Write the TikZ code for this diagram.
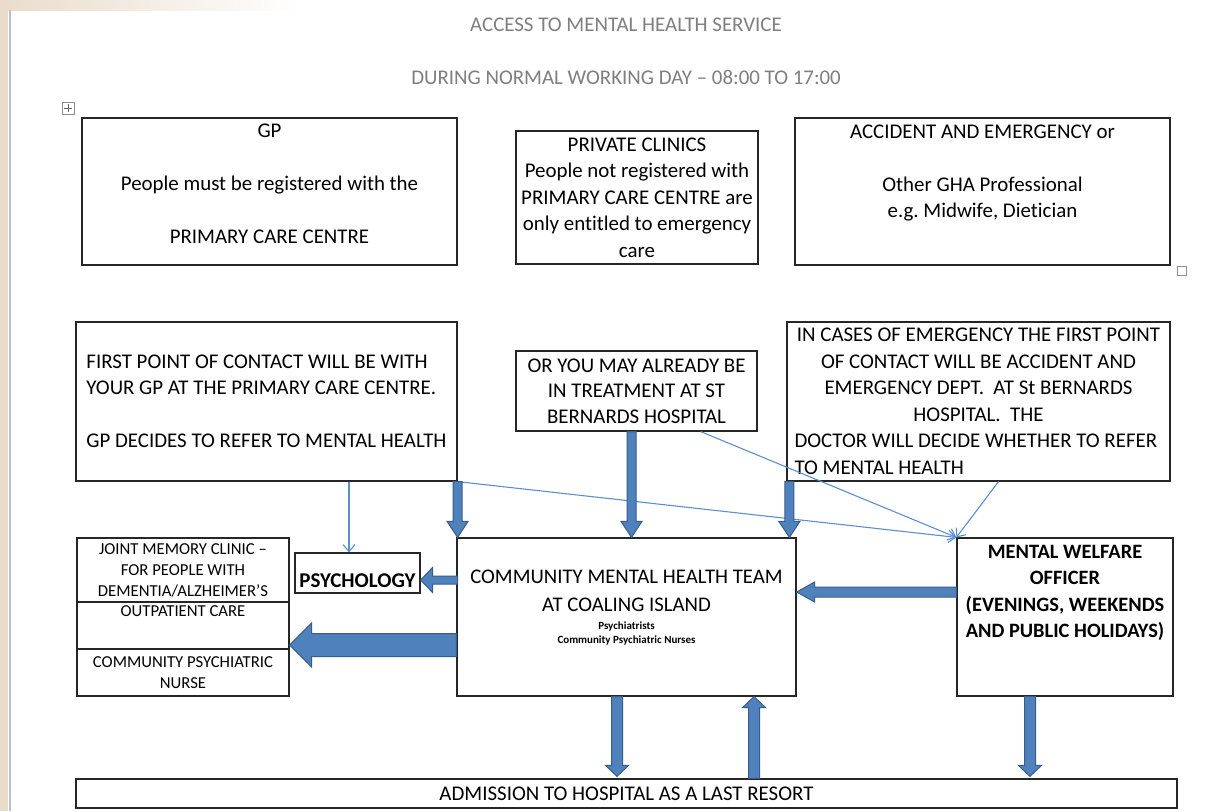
\documentclass[tikz,border=0pt]{standalone}
\usepackage{fontspec}
\setmainfont{Carlito}[Ligatures=NoCommon]
\usetikzlibrary{positioning,arrows.meta,calc}

\definecolor{arrowfill}{HTML}{4F81BD}
\definecolor{arrowedge}{HTML}{385D8A}
\definecolor{linkblue}{HTML}{5B8FD0}
\definecolor{titlegray}{HTML}{7F7F7F}
\definecolor{pagebeige}{HTML}{E9DCCB}

% block arrow: [style]{from}{to}{shaft half}{head half}{head length}
\newcommand{\fatarrow}[6][]{%
  \path ($(#3)!#6!(#2)$) coordinate (fa-base);
  \filldraw[fat,#1] ($(#2)!#4!90:(#3)$) -- ($(fa-base)!#4!-90:(#2)$)
    -- ($(fa-base)!#5!-90:(#2)$) -- (#3) -- ($(fa-base)!#5!90:(#2)$)
    -- ($(fa-base)!#4!90:(#2)$) -- ($(#2)!#4!-90:(#3)$) -- cycle;}

\begin{document}
\begin{tikzpicture}[
    x=0.5pt, y=-0.5pt,
    font=\fontsize{10.45}{13.25}\selectfont,
    box/.style={draw=black!85, line width=0.6pt, inner sep=2pt, align=center},
    txt/.style={align=center, inner sep=0pt},
    small/.style={font=\fontsize{8.35}{10.5}\selectfont, inner ysep=1pt},
    fat/.style={fill=arrowfill, draw=arrowedge, line width=0.5pt, line join=miter},
    link/.style={draw=linkblue, line width=0.55pt, -{Straight Barb[length=3.5pt,width=6pt]}}
]
\useasboundingbox (0,0) rectangle (1228,811);

% page
\fill[white] (0,0) rectangle (1228,811);
\shade[left color=pagebeige, right color=white] (0,0) rectangle (300,10);
\fill[pagebeige] (0,0) rectangle (8,811);
\draw[black!25, line width=1pt] (10,10) -- (10,811);
\node[draw=black!45, line width=0.4pt, minimum size=6pt, inner sep=0pt] (mover) at (68,108) {};
\draw[black!60, line width=0.3pt] ($(mover.center)+(-4,0)$) -- ($(mover.center)+(4,0)$)
    ($(mover.center)+(0,-4)$) -- ($(mover.center)+(0,4)$);
\node[draw=black!45, line width=0.4pt, minimum size=4.5pt, inner sep=0pt] (handle) at (1182,271) {};

% titles
\node[txt, text=titlegray] (title) at (626,25) {ACCESS TO MENTAL HEALTH SERVICE};
\node[txt, text=titlegray] (subtitle) at (626,77) {DURING NORMAL WORKING DAY – 08:00 TO 17:00};

% Row 1: who you see first
\node[box, minimum width=187.5pt, minimum height=73.5pt] (gp) at (269.5,191.5) {};
\node[txt] (gp-t) at (269.5,184) {GP\\[13.25pt]People must be registered with the\\[13.25pt]PRIMARY CARE CENTRE};
\node[box, minimum width=121pt, minimum height=66.5pt] (private) at (637,197.5) {PRIVATE CLINICS\\People not registered with\\PRIMARY CARE CENTRE are\\only entitled to emergency\\care};
\node[box, minimum width=187.5pt, minimum height=73.5pt] (ae) at (982.5,191.5) {};
\node[txt] (ae-t) at (982.5,173) {ACCIDENT AND EMERGENCY or\\[13.25pt]Other GHA Professional\\e.g.\ Midwife, Dietician};

% Row 2: routes into mental health
\node[box, align=left, minimum width=190.5pt, minimum height=79.5pt] (first) at (266.5,401.5) {FIRST POINT OF CONTACT WILL BE WITH\\YOUR GP AT THE PRIMARY CARE CENTRE.\\[13.25pt]GP DECIDES TO REFER TO MENTAL HEALTH};
\node[box, minimum width=120.5pt, minimum height=40pt] (stb) at (636.5,391) {OR YOU MAY ALREADY BE\\[-0.5pt]IN TREATMENT AT ST\\[-0.5pt]BERNARDS HOSPITAL};
\node[box, align=flush center, text width=184pt, minimum width=191.5pt, minimum height=79.5pt] (emerg) at (978.5,401.5) {\mbox{IN CASES OF EMERGENCY THE FIRST POINT}\\\mbox{OF CONTACT WILL BE ACCIDENT AND}\\\mbox{EMERGENCY DEPT.\ \ AT St BERNARDS}\\\mbox{HOSPITAL.\ \ THE}\\\makebox[184pt][l]{DOCTOR WILL DECIDE WHETHER TO REFER}\\\makebox[184pt][l]{TO MENTAL HEALTH}};

% Row 3: services
\node[box, small, minimum width=106pt, minimum height=32pt] (memory) at (183,570) {JOINT MEMORY CLINIC –\\FOR PEOPLE WITH\\DEMENTIA/ALZHEIMER’S};
\node[box, minimum width=106pt, minimum height=23.5pt] (outpat) at (183,625.5) {};
\node[txt, small] (outpat-t) at (183,611) {OUTPATIENT CARE};
\node[box, small, minimum width=106pt, minimum height=23.5pt] (cpn) at (183,672.5) {COMMUNITY PSYCHIATRIC\\NURSE};
\node[box, font=\bfseries\fontsize{10.5}{13.25}\selectfont, minimum width=62.5pt, minimum height=20pt, text height=14pt, text depth=0pt] (psych) at (357.5,573) {PSYCHOLOGY};
\node[box, minimum width=169.5pt, minimum height=79pt] (cmht) at (626.5,617) {};
\node[txt, font=\fontsize{10.4}{14}\selectfont] (cmht-t) at (626.5,591) {COMMUNITY MENTAL HEALTH TEAM\\AT COALING ISLAND};
\node[txt, font=\bfseries\fontsize{5.5}{7}\selectfont] (cmht-s) at (626.5,633) {Psychiatrists\\Community Psychiatric Nurses};
\node[box, minimum width=108pt, minimum height=79pt] (mwo) at (1065,617) {};
\node[txt, font=\bfseries\fontsize{10.2}{13.25}\selectfont] (mwo-t) at (1065,593) {MENTAL WELFARE\\OFFICER\\(EVENINGS, WEEKENDS\\AND PUBLIC HOLIDAYS)};

% Row 4
\node[box, minimum width=550.5pt, minimum height=14.5pt, inner sep=0pt] (adm) at (626.5,793.5) {ADMISSION TO HOSPITAL AS A LAST RESORT};

% thin links
\coordinate (psy-in) at ($(first.south)+(82.5,0)$);
\draw[link] (psy-in) -- (psy-in |- psych.north);
\draw[link] (first.south east) -- (mwo.north west);
\coordinate (stb-out) at ($(stb.south)!0.53!(stb.south east)$);
\draw[link] (stb-out) -- (mwo.north west);
\coordinate (em-out) at ($(emerg.south)+(20,0)$);
\draw[link] (em-out) -- (mwo.north west);

% block arrows into the team
\coordinate (a1s) at (first.south east);
\coordinate (a1e) at (first.south east |- cmht.north);
\fatarrow{a1s}{a1e}{2.25pt}{5.25pt}{8pt}
\coordinate (a2s) at ($(stb.south)+(-5,0)$);
\coordinate (a2e) at (a2s |- cmht.north);
\fatarrow{a2s}{a2e}{2.25pt}{5.25pt}{8pt}
\coordinate (a3s) at ($(emerg.south west)+(3,0)$);
\coordinate (a3e) at (a3s |- cmht.north);
\fatarrow{a3s}{a3e}{2.25pt}{5.25pt}{8pt}

% block arrows out of the team
\coordinate (psy-s) at ($(psych.east)+(37,7)$);
\coordinate (psy-e) at ($(psych.east)+(0,7)$);
\fatarrow{psy-s}{psy-e}{2pt}{6.25pt}{6pt}
\coordinate (out-s) at ($(cmht.west)+(0,28)$);
\coordinate (out-e) at (outpat.east |- out-s);
\fatarrow{out-s}{out-e}{5.75pt}{11pt}{11pt}
\coordinate (mwo-s) at ($(mwo.west)+(0,-25)$);
\coordinate (mwo-e) at (cmht.east |- mwo-s);
\fatarrow{mwo-s}{mwo-e}{2.5pt}{5pt}{9pt}

% admission
\coordinate (down1s) at ($(cmht.south)+(-9.5,0)$);
\coordinate (down1e) at ($(down1s |- adm.north)+(0,-2)$);
\fatarrow{down1s}{down1e}{2.75pt}{5.75pt}{5.5pt}
\coordinate (up1s) at ($(adm.north)+(127.5,0)$);
\coordinate (up1e) at (up1s |- cmht.south);
\fatarrow{up1s}{up1e}{2.75pt}{5.75pt}{5.5pt}
\coordinate (down2s) at ($(mwo.south)+(-35,0)$);
\coordinate (down2e) at ($(down2s |- adm.north)+(0,-2)$);
\fatarrow{down2s}{down2e}{2.75pt}{5.75pt}{5.5pt}

\end{tikzpicture}
\end{document}
